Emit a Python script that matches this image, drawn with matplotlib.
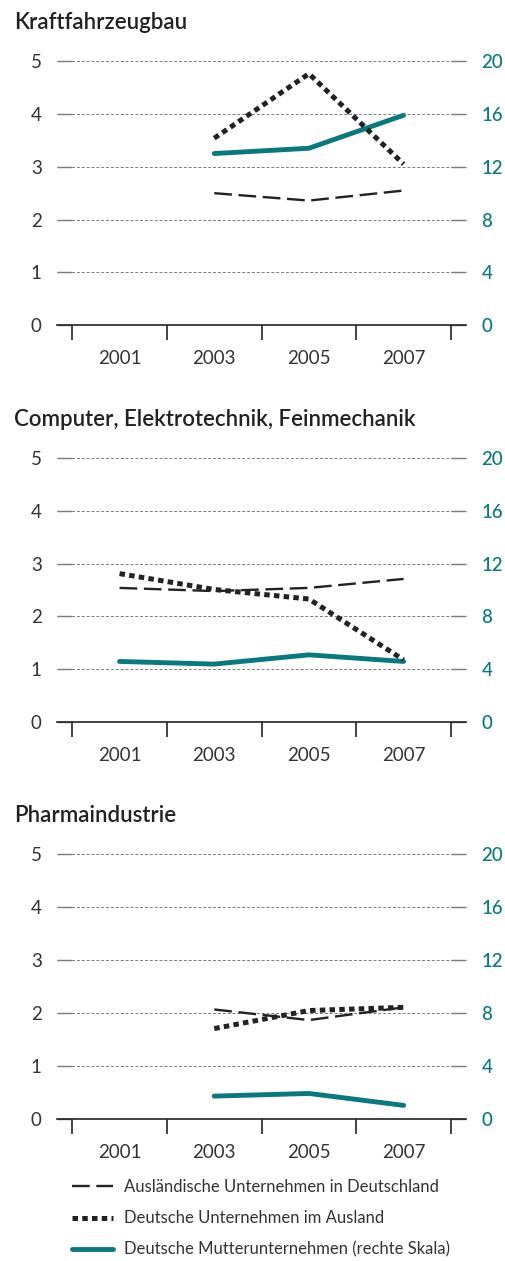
import matplotlib.pyplot as plt

plt.rcParams['font.family'] = ['Lato', 'DejaVu Sans']

# =========================
# Data
# =========================
years = [2001, 2003, 2005, 2007]
titles = ["Kraftfahrzeugbau",
          "Computer, Elektrotechnik, Feinmechanik",
          "Pharmaindustrie"]

# Ausländische Unternehmen in Deutschland (left scale)
auslaendische = [
    [None, 2.50, 2.36, 2.55],
    [2.54, 2.48, 2.54, 2.71],
    [None, 2.06, 1.86, 2.10],
]
# Deutsche Unternehmen im Ausland (left scale)
deutsche_ausland = [
    [None, 3.54, 4.76, 3.05],
    [2.81, 2.51, 2.33, 1.18],
    [None, 1.70, 2.04, 2.10],
]
# Deutsche Mutterunternehmen (right scale)
mutter = [
    [None, 13.0, 13.4, 15.9],
    [4.6, 4.4, 5.1, 4.6],
    [None, 1.7, 1.9, 1.0],
]

labels = ["Ausländische Unternehmen in Deutschland",
          "Deutsche Unternehmen im Ausland",
          "Deutsche Mutterunternehmen (rechte Skala)"]

TEAL = '#07797f'
DARK = '#222222'
GRAY = '#7a7a7a'

# panel placement in figure fractions (left, bottom, width, height)
boxes = [(0.113, 0.742, 0.810, 0.2096),
         (0.113, 0.4272, 0.810, 0.2098),
         (0.113, 0.1129, 0.810, 0.2101)]
title_y = [0.982, 0.667, 0.353]


def clean(xs, ys):
    pts = [(x, y) for x, y in zip(xs, ys) if y is not None]
    return [p[0] for p in pts], [p[1] for p in pts]


fig = plt.figure(figsize=(5.05, 12.61), dpi=100)

handles = []
for i in range(3):
    ax = fig.add_axes(boxes[i])
    tw = ax.twinx()
    ax.set_zorder(tw.get_zorder() + 1)
    ax.patch.set_visible(False)

    ax.set_xlim(1999.68, 2008.32)
    ax.set_ylim(0, 5)
    tw.set_ylim(0, 20)

    for y in range(6):
        ax.axhline(y, color=GRAY, lw=0.7, ls=(0, (3, 2)), zorder=0)

    x, y = clean(years, auslaendische[i])
    h1, = ax.plot(x, y, color=DARK, lw=1.7, ls=(0, (7.5, 2.8)),
                  solid_capstyle='butt', dash_capstyle='butt')
    x, y = clean(years, deutsche_ausland[i])
    h2, = ax.plot(x, y, color=DARK, lw=3.6, ls=(0, (1.1, 0.85)),
                  dash_capstyle='butt')
    x, y = clean(years, mutter[i])
    h3, = tw.plot(x, y, color=TEAL, lw=3.5, solid_capstyle='round',
                  solid_joinstyle='round')
    handles = [h1, h2, h3]

    for a in (ax, tw):
        for s in ('top', 'left', 'right'):
            a.spines[s].set_visible(False)
    tw.spines['bottom'].set_visible(False)
    ax.spines['bottom'].set_color(DARK)
    ax.spines['bottom'].set_linewidth(1.2)

    ax.set_yticks(range(6))
    ax.tick_params(axis='y', direction='in', length=11, width=1.0,
                   color=GRAY, pad=11, labelsize=13.5, labelcolor='#333333')
    tw.set_yticks(range(0, 21, 4))
    tw.tick_params(axis='y', direction='in', length=11, width=1.0,
                   color=GRAY, pad=11, labelsize=13.5, labelcolor=TEAL)
    for lab in tw.get_yticklabels():
        lab.set_fontweight('medium')

    ax.set_xticks(range(2000, 2009, 2))
    ax.set_xticklabels([])
    ax.set_xticks(years, minor=True)
    ax.set_xticklabels([str(yr) for yr in years], minor=True)
    ax.tick_params(axis='x', which='major', direction='out', length=11,
                   width=1.2, color=DARK)
    ax.tick_params(axis='x', which='minor', length=0, pad=18,
                   labelsize=13.5, labelcolor='#333333')

    fig.text(0.028, title_y[i], titles[i], fontsize=16,
             fontweight='semibold', color=DARK, va='center', ha='left')

fig.legend(handles, labels, loc='upper left',
           bbox_to_anchor=(0.1426, 0.065), frameon=False, fontsize=12,
           handlelength=2.45, handletextpad=0.66, labelspacing=0.92,
           borderpad=0, borderaxespad=0, labelcolor='#333333')

fig.savefig('out.png', dpi=100)
